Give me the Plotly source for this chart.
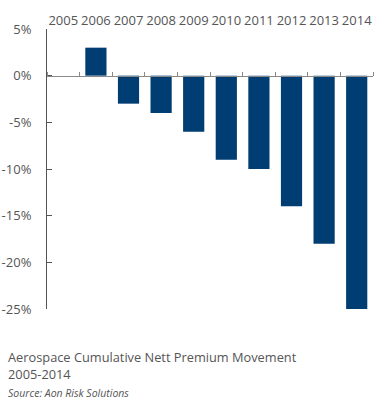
import plotly.graph_objects as go

years = ["2005", "2006", "2007", "2008", "2009", "2010", "2011", "2012", "2013", "2014"]
movement = [0, 3, -3, -4, -6, -9, -10, -14, -18, -25]
y_ticks = [5, 0, -5, -10, -15, -20, -25]
y_labels = ["5%", "0%", "-5%", "-10%", "-15%", "-20%", "-25%"]

y_min, y_max = -25, 5
bar_color = "#003D73"
text_color = "#555555"
font_family = "Open Sans, Noto Sans, sans-serif"

fig = go.Figure()
fig.add_trace(go.Bar(x=years, y=movement, marker=dict(color=bar_color, line=dict(width=0)),
                     xaxis="x", yaxis="y", hoverinfo="x+y"))
# helper trace for the zero-line axis with upward ticks
fig.add_trace(go.Scatter(x=years, y=[0] * len(years), mode="markers",
                         marker=dict(opacity=0), xaxis="x2", yaxis="y",
                         hoverinfo="skip", showlegend=False))

zero_pos = (0 - y_min) / (y_max - y_min)

fig.update_layout(
    width=386, height=414,
    margin=dict(l=47, r=13, t=29, b=105, autoexpand=False),
    paper_bgcolor="white", plot_bgcolor="white",
    showlegend=False, bargap=0.35,
    font=dict(family=font_family, color=text_color, size=13),
    xaxis=dict(type="category", categoryorder="array", categoryarray=years,
               side="top", showline=False, ticks="", showgrid=False, zeroline=False,
               automargin=False,
               range=[-0.5, 9.5], tickfont=dict(size=13, color=text_color), ticklabelstandoff=0),
    xaxis2=dict(type="category", categoryorder="array", categoryarray=years,
                overlaying="x", anchor="free", position=zero_pos, side="top",
                showline=True, linecolor="#8a8a8a", linewidth=1, automargin=False,
                ticks="outside", tickson="boundaries", ticklen=4, tickcolor="#8a8a8a",
                showticklabels=False, showgrid=False, zeroline=False, range=[-0.5, 9.5]),
    yaxis=dict(range=[y_min, y_max], tickvals=y_ticks, ticktext=y_labels,
               showline=True, linecolor="#555555", linewidth=1, automargin=False,
               ticks="inside", ticklen=5, tickcolor="#555555", ticklabelstandoff=12,
               showgrid=False, zeroline=False, tickfont=dict(size=13, color=text_color)),
    annotations=[
        dict(text="Aerospace Cumulative Nett Premium Movement<br>2005-2014",
             xref="paper", yref="paper", x=-41/326, y=-0.2018, xanchor="left", yanchor="middle",
             align="left", showarrow=False, font=dict(size=12.8, color=text_color, family=font_family)),
        dict(text="<i>Source: Aon Risk Solutions</i>",
             xref="paper", yref="paper", x=-41/326, y=-0.3, xanchor="left", yanchor="middle",
             align="left", showarrow=False, font=dict(size=10.5, color=text_color, family=font_family)),
    ],
)

fig.write_html("out.html", config={"displayModeBar": False},
               post_script="document.body.style.margin='0';")
